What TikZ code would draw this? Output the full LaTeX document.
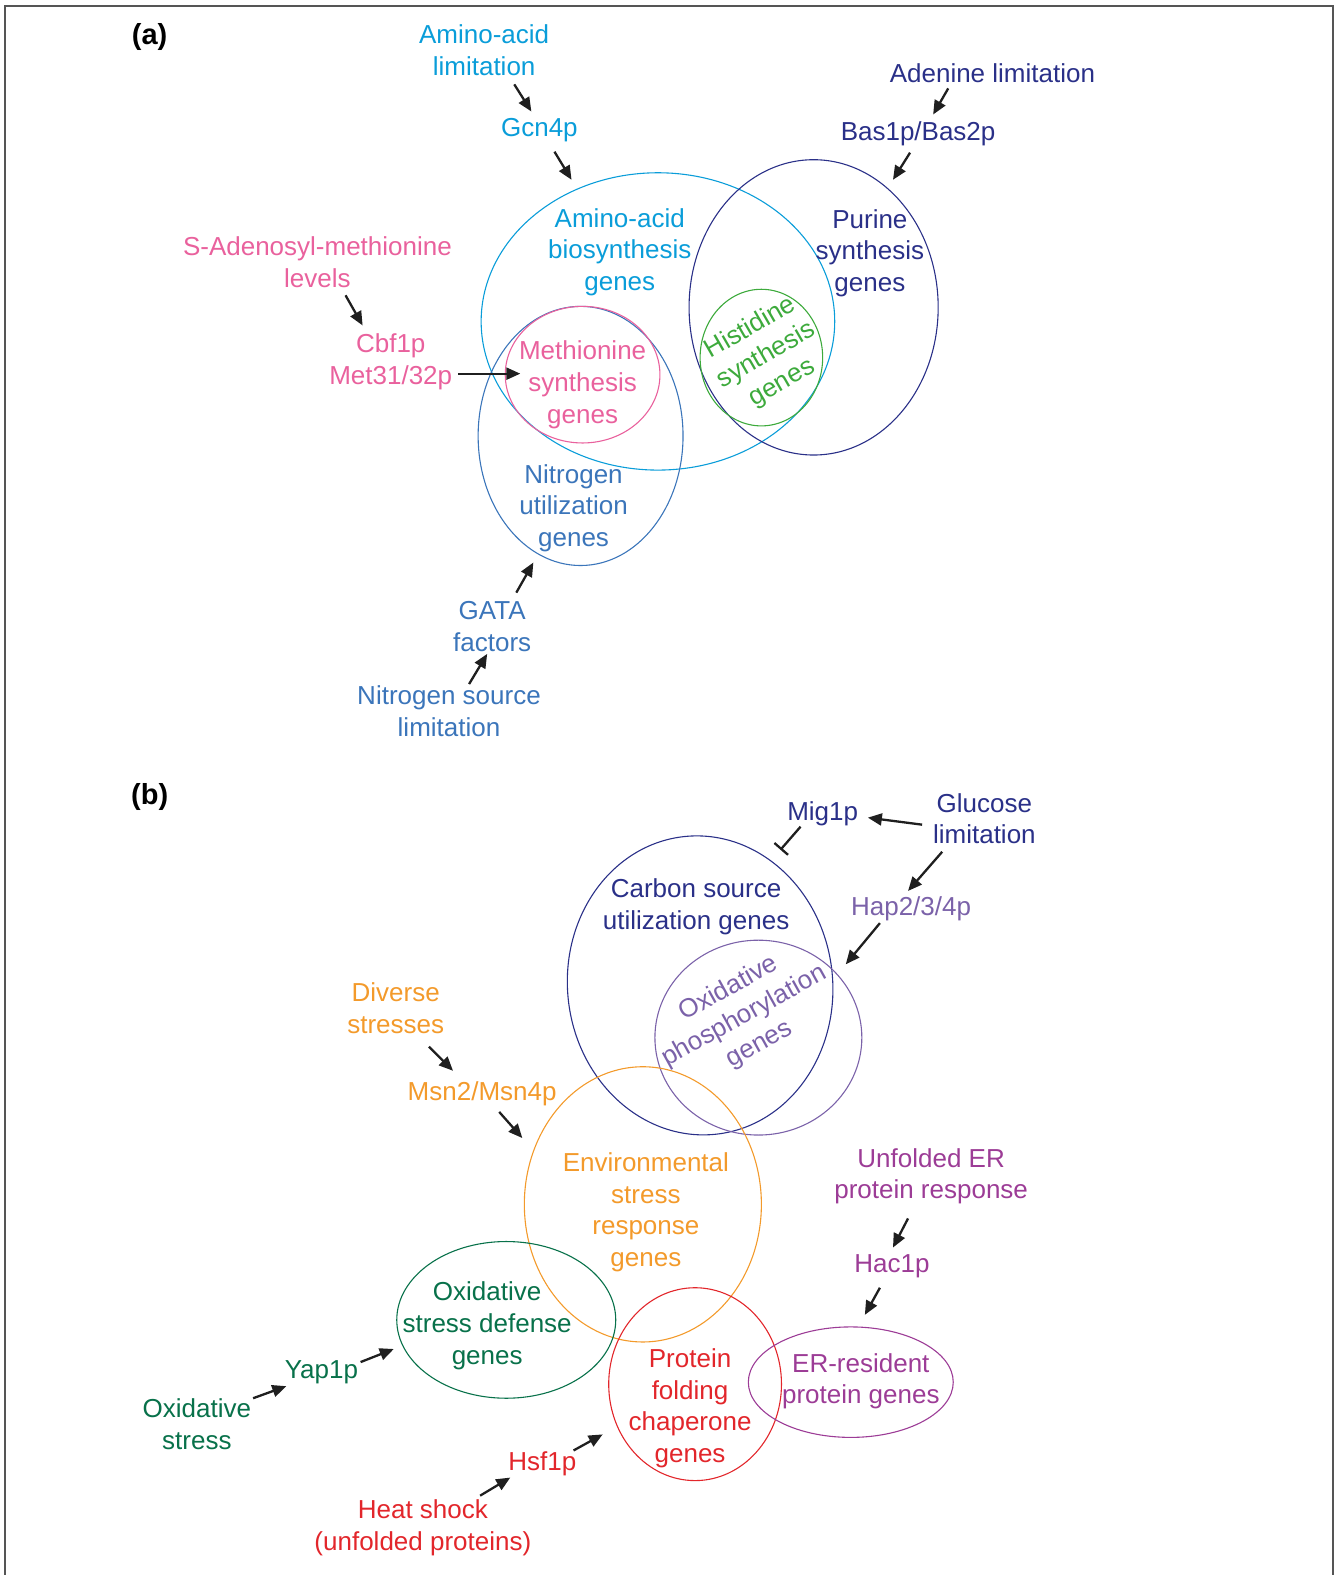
\documentclass[tikz,border=0pt]{standalone}
\usepackage{fontspec}
\setmainfont{Liberation Sans}
\usetikzlibrary{shapes.geometric,arrows.meta}
\definecolor{cAA}{HTML}{0A9DD9}
\definecolor{cNavy}{HTML}{2A3088}
\definecolor{cPink}{HTML}{E9619D}
\definecolor{cBlue}{HTML}{3B75BA}
\definecolor{cGreen}{HTML}{3DAA3C}
\definecolor{cOrange}{HTML}{F39A2B}
\definecolor{cDGreen}{HTML}{08714A}
\definecolor{cRed}{HTML}{E2262B}
\definecolor{cPurple}{HTML}{7B62A9}
\definecolor{cMag}{HTML}{9C3C96}
\definecolor{cArrow}{HTML}{1F1F1F}
\definecolor{cFrame}{HTML}{555555}
\newcommand\pxu[1]{#1*1.0045pt}
\tikzset{
  lbl/.style={align=center,inner sep=0pt,font=\fontsize{26}{31.7}\selectfont},
  venn/.style={draw,ellipse,inner sep=0pt,line width=1.1pt},
  act/.style={draw=cArrow,line width=2.3pt,-{Triangle[length=14pt,width=12pt]}},
  inh/.style={draw=cArrow,line width=2.3pt,-{Bar[width=18pt]}},
  panel/.style={inner sep=0pt,font=\fontsize{29}{33}\selectfont\bfseries}
}
\begin{document}
\begin{tikzpicture}[x=1.0045pt,y=-1.0045pt]
\useasboundingbox (0,0) rectangle (1331,1568);
\draw[cFrame,line width=1.5pt] (5,1568) -- (5,6) -- (1327,6) -- (1327,1568);

% ---------------- panel (a)
\node[panel] (pa) at (149,37) {(a)};
\node[venn,draw=cAA,minimum width=\pxu{352},minimum height=\pxu{296}] (eaa) at (655,320) {};
\node[venn,draw=cNavy,minimum width=\pxu{248},minimum height=\pxu{294}] (epur) at (810,306) {};
\node[venn,draw=cGreen,minimum width=\pxu{122},minimum height=\pxu{136}] (ehis) at (758,356) {};
\node[venn,draw=cBlue,minimum width=\pxu{204},minimum height=\pxu{258}] (enit) at (578,434) {};
\node[venn,draw=cPink,minimum width=\pxu{154},minimum height=\pxu{136}] (emet) at (580,373) {};

\node[lbl,text=cAA] (aal) at (482,50) {Amino-acid\\limitation};
\node[lbl,text=cAA] (gcn) at (537,130) {Gcn4p};
\node[lbl,text=cNavy] (adl) at (988,73) {Adenine limitation};
\node[lbl,text=cNavy] (bas) at (914,133) {Bas1p/Bas2p};
\node[lbl,text=cAA] (aag) at (617,251) {Amino-acid\\biosynthesis\\genes};
\node[lbl,text=cNavy] (pur) at (866,252) {Purine\\synthesis\\genes};
\node[lbl,text=cGreen,rotate=30] (his) at (763,354) {Histidine\\synthesis\\genes};
\node[lbl,text=cPink] (sam) at (316,261) {S-Adenosyl-methionine\\levels};
\node[lbl,text=cPink] (cbf) at (389,360) {Cbf1p\\Met31/32p};
\node[lbl,text=cPink] (met) at (580,383) {Methionine\\synthesis\\genes};
\node[lbl,text=cBlue] (nit) at (571,506) {Nitrogen\\utilization\\genes};
\node[lbl,text=cBlue] (gata) at (490,624) {GATA\\factors};
\node[lbl,text=cBlue] (nsl) at (447,708) {Nitrogen source\\limitation};

\coordinate (a1s) at (512,84);  \coordinate (a1e) at (529,111);
\coordinate (a2s) at (552,151); \coordinate (a2e) at (569,179);
\coordinate (a3s) at (944,88);  \coordinate (a3e) at (929,114);
\coordinate (a4s) at (906,152); \coordinate (a4e) at (889,179);
\coordinate (a5s) at (344,294); \coordinate (a5e) at (361,324);
\coordinate (a6s) at (456,372); \coordinate (a6e) at (518,372);
\coordinate (a7s) at (514,590); \coordinate (a7e) at (531,560);
\coordinate (a8s) at (467,681); \coordinate (a8e) at (485,651);
\foreach \i in {1,...,8}{\draw[act] (a\i s) -- (a\i e);}

% ---------------- panel (b)
\node[panel] (pb) at (149,793) {(b)};
\node[venn,draw=cNavy,rotate=6,minimum width=\pxu{264},minimum height=\pxu{298}] (ecarb) at (697,981) {};
\node[venn,draw=cPurple,minimum width=\pxu{206},minimum height=\pxu{194}] (eoxp) at (755,1033) {};
\node[venn,draw=cOrange,minimum width=\pxu{236},minimum height=\pxu{274}] (eenv) at (640,1199) {};
\node[venn,draw=cDGreen,minimum width=\pxu{218},minimum height=\pxu{156}] (eoxs) at (504,1314) {};
\node[venn,draw=cRed,minimum width=\pxu{172},minimum height=\pxu{192}] (eprot) at (692,1378) {};
\node[venn,draw=cMag,minimum width=\pxu{204},minimum height=\pxu{110}] (eer) at (847,1376) {};

\node[lbl,text=cNavy] (mig) at (819,810) {Mig1p};
\node[lbl,text=cNavy] (glu) at (980,815) {Glucose\\limitation};
\node[lbl,text=cPurple] (hap) at (907,905) {Hap2/3/4p};
\node[lbl,text=cNavy] (carb) at (693,903) {Carbon source\\utilization genes};
\node[lbl,text=cPurple,rotate=29] (oxp) at (741,1012) {Oxidative\\phosphorylation\\genes};
\node[lbl,text=cOrange] (div) at (394,1004) {Diverse\\stresses};
\node[lbl,text=cOrange] (msn) at (480,1089) {Msn2/Msn4p};
\node[lbl,text=cOrange] (env) at (643,1207) {Environmental\\stress\\response\\genes};
\node[lbl,text=cDGreen] (oxs) at (485,1320) {Oxidative\\stress defense\\genes};
\node[lbl,text=cDGreen] (yap) at (320,1366) {Yap1p};
\node[lbl,text=cDGreen] (oxst) at (196,1418) {Oxidative\\stress};
\node[lbl,text=cRed] (prot) at (687,1402) {Protein\\folding\\chaperone\\genes};
\node[lbl,text=cRed] (hsf) at (540,1457) {Hsf1p};
\node[lbl,text=cRed] (heat) at (421,1521) {Heat shock\\(unfolded proteins)};
\node[lbl,text=cMag] (er) at (857,1375) {ER-resident\\protein genes};
\node[lbl,text=cMag] (ufr) at (927,1171) {Unfolded ER\\protein response};
\node[lbl,text=cMag] (hac) at (888,1261) {Hac1p};

\coordinate (b1s) at (918,821);  \coordinate (b1e) at (864,814);
\coordinate (b3s) at (938,848);  \coordinate (b3e) at (904,887);
\coordinate (b4s) at (876,919);  \coordinate (b4e) at (842,960);
\coordinate (b5s) at (427,1042); \coordinate (b5e) at (451,1066);
\coordinate (b6s) at (497,1107); \coordinate (b6e) at (520,1133);
\coordinate (b7s) at (359,1356); \coordinate (b7e) at (392,1343);
\coordinate (b8s) at (252,1392); \coordinate (b8e) at (285,1380);
\coordinate (b9s) at (571,1444); \coordinate (b9e) at (600,1428);
\coordinate (b10s) at (478,1489); \coordinate (b10e) at (508,1471);
\coordinate (b11s) at (904,1213); \coordinate (b11e) at (889,1242);
\coordinate (b12s) at (876,1282); \coordinate (b12e) at (861,1309);
\foreach \i in {1,3,4,5,6,7,8,9,10,11,12}{\draw[act] (b\i s) -- (b\i e);}
\coordinate (b2s) at (797,823); \coordinate (b2e) at (777,846);
\draw[inh] (b2s) -- (b2e);
\end{tikzpicture}
\end{document}
